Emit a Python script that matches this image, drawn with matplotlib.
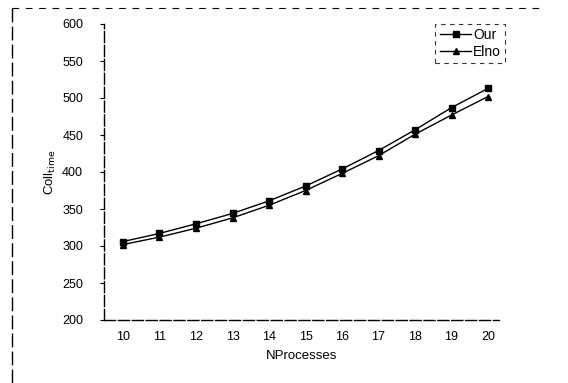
import matplotlib
matplotlib.use("Agg")
import matplotlib.pyplot as plt
from matplotlib.lines import Line2D

plt.rcParams['font.family'] = ['Liberation Sans', 'DejaVu Sans']

nprocesses = [10, 11, 12, 13, 14, 15, 16, 17, 18, 19, 20]
our = [306, 317, 330, 344, 361, 381, 404, 429, 457, 487, 513]
elno = [302, 312, 324, 338, 355, 375, 398, 422, 451, 477, 502]
yticks = [200, 250, 300, 350, 400, 450, 500, 550, 600]

fig = plt.figure(figsize=(5.68, 3.83), dpi=100)
ax = fig.add_axes([104/568, 1-320/383, (499-104)/568, (320-24)/383])

ax.plot(nprocesses, our, color='black', lw=1.0, marker='s', ms=5, label='Our')
ax.plot(nprocesses, elno, color='black', lw=1.0, marker='^', ms=5, label='Elno')

ax.set_xlim(9.48, 20.3)
ax.set_ylim(200, 600)
ax.set_xticks(nprocesses)
ax.set_yticks(yticks)
ax.tick_params(axis='both', labelsize=9, direction='out', length=3, width=0.8)
ax.tick_params(axis='x', length=0, pad=8)
ax.tick_params(axis='y', pad=12)
for s in ['top', 'right']:
    ax.spines[s].set_visible(False)
for s in ['left', 'bottom']:
    ax.spines[s].set_linewidth(1.0)
    ax.spines[s].set_linestyle((0, (8, 2)))

ax.set_xlabel('NProcesses', fontsize=9.5, labelpad=5)
ax.set_ylabel(r'Coll$_{\rm time}$', fontsize=9.5, labelpad=3)

leg = ax.legend(loc='upper right', bbox_to_anchor=(1.015, 1.0), fontsize=10,
                frameon=True, fancybox=False, handlelength=2.3,
                borderpad=0.3, labelspacing=0.2, handletextpad=0.1,
                borderaxespad=0.0)
leg.get_frame().set_edgecolor('black')
leg.get_frame().set_linewidth(0.8)
leg.get_frame().set_linestyle((0, (4, 4)))

# outer dashed frame of the scanned figure
fig.add_artist(Line2D([12/568, 12/568], [0, 1-8/383], transform=fig.transFigure,
                      color='black', lw=1.0, ls=(0, (10, 3))))
fig.add_artist(Line2D([12/568, 545/568], [1-8/383, 1-8/383], transform=fig.transFigure,
                      color='black', lw=0.8, ls=(0, (6, 6))))

fig.savefig('out.png', dpi=100)
